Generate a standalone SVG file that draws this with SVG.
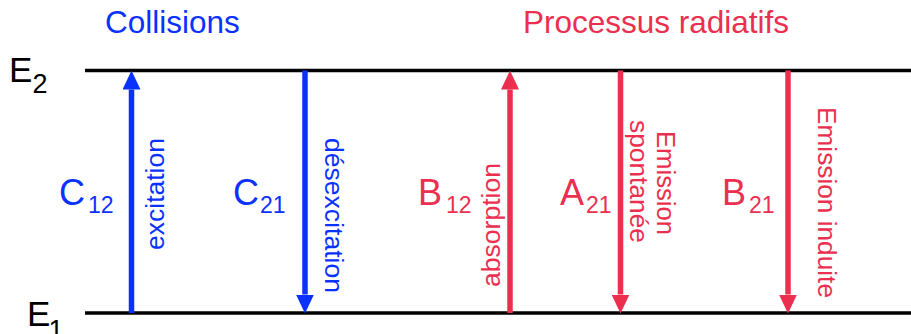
<svg xmlns="http://www.w3.org/2000/svg" width="911" height="334" viewBox="0 0 911 334">
<style>
  text { font-family: "Liberation Sans", Arial, sans-serif; }
  .blue { fill: #0a32ff; }
  .red { fill: #eb2f4e; }
  .blk { fill: #000; }
  .title { font-size: 31.5px; }
  .big { font-size: 36px; }
  .sub { font-size: 23px; }
  .rot { font-size: 25px; }
  .lvl { stroke: #000; stroke-width: 3.5; }
  .ab { stroke: #0a32ff; stroke-width: 5.5; fill: none; marker-end: url(#hb); }
  .ar { stroke: #eb2f4e; stroke-width: 5.5; fill: none; marker-end: url(#hr); }
</style>
<defs>
  <marker id="hb" viewBox="0 0 19 18" markerWidth="19" markerHeight="18" markerUnits="userSpaceOnUse" refX="0" refY="9" orient="auto">
    <path d="M0,0 L19,9 L0,18 Z" fill="#0a32ff"/>
  </marker>
  <marker id="hr" viewBox="0 0 19 18" markerWidth="19" markerHeight="18" markerUnits="userSpaceOnUse" refX="0" refY="9" orient="auto">
    <path d="M0,0 L19,9 L0,18 Z" fill="#eb2f4e"/>
  </marker>
</defs>
<rect width="911" height="334" fill="#fff"/>

<g id="level-E2">
  <line class="lvl" x1="85" y1="70.5" x2="911" y2="70.5"/>
  <text class="blk" x="9" y="82" font-size="35">E</text>
  <text class="blk" x="32.5" y="93" font-size="27">2</text>
</g>
<g id="level-E1">
  <line class="lvl" x1="85" y1="313" x2="911" y2="313"/>
  <text class="blk" x="27" y="326" font-size="35">E</text>
  <text class="blk" x="48.5" y="338.5" font-size="27">1</text>
</g>

<g id="title-collisions">
  <text class="blue title" x="105" y="33">Collisions</text>
</g>
<g id="title-radiatifs">
  <text class="red title" x="523" y="33">Processus radiatifs</text>
</g>

<g id="connectors">
  <line class="ab" x1="131.5" y1="313" x2="131.5" y2="89.5"/>
  <line class="ab" x1="305" y1="70.5" x2="305" y2="294.5"/>
  <line class="ar" x1="510" y1="313" x2="510" y2="89.5"/>
  <line class="ar" x1="620.5" y1="70.5" x2="620.5" y2="294.5"/>
  <line class="ar" x1="788" y1="70.5" x2="788" y2="294.5"/>
</g>

<g id="node-C12">
  <text class="blue big" x="59" y="205">C</text>
  <text class="blue sub" x="88" y="213">12</text>
  <text class="blue rot" transform="translate(163.5,250) rotate(-90)" textLength="112" lengthAdjust="spacingAndGlyphs">excitation</text>
</g>
<g id="node-C21">
  <text class="blue big" x="233" y="205">C</text>
  <text class="blue sub" x="260" y="213">21</text>
  <text class="blue rot" transform="translate(325,138) rotate(90)" textLength="155" lengthAdjust="spacingAndGlyphs">désexcitation</text>
</g>
<g id="node-B12">
  <text class="red big" x="418" y="205">B</text>
  <text class="red sub" x="446" y="213">12</text>
  <text class="red rot" transform="translate(500,287) rotate(-90)" textLength="124" lengthAdjust="spacingAndGlyphs">absorption</text>
</g>
<g id="node-A21">
  <text class="red big" x="560" y="205">A</text>
  <text class="red sub" x="586" y="213">21</text>
  <text class="red rot" transform="translate(657,131) rotate(90)" textLength="104" lengthAdjust="spacingAndGlyphs">Emission</text>
  <text class="red rot" transform="translate(630,120) rotate(90)" textLength="123" lengthAdjust="spacingAndGlyphs">spontanée</text>
</g>
<g id="node-B21">
  <text class="red big" x="722" y="205">B</text>
  <text class="red sub" x="749" y="213">21</text>
  <text class="red rot" transform="translate(818,107) rotate(90)" textLength="191" lengthAdjust="spacingAndGlyphs">Emission induite</text>
</g>
</svg>
